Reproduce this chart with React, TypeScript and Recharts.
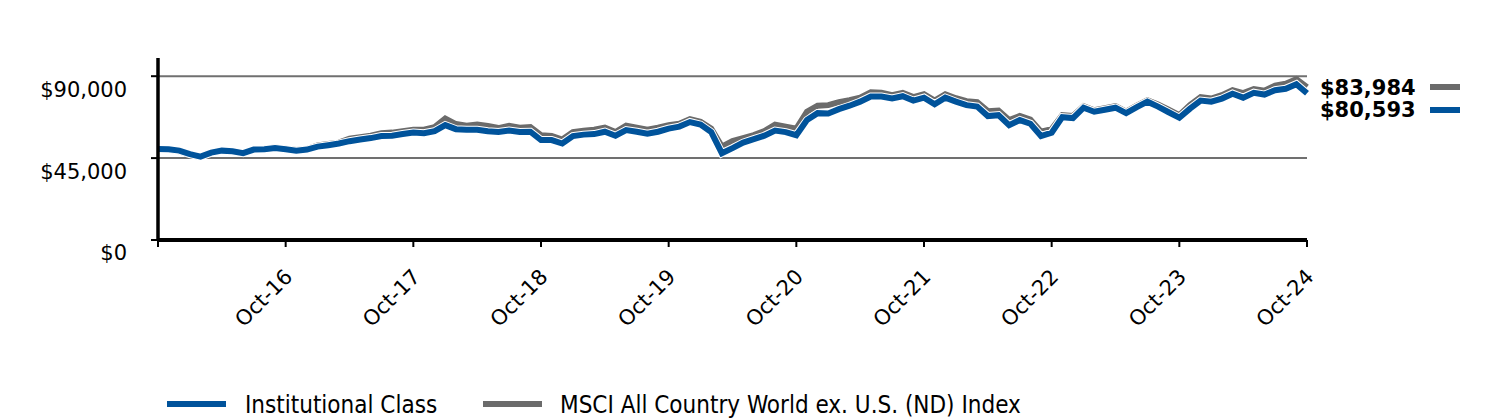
import React from "react"
import { LineChart, Line, XAxis, YAxis, CartesianGrid } from "recharts"

// ─── Data ────────────────────────────────────────────────────

const monthNames = ["Jan", "Feb", "Mar", "Apr", "May", "Jun", "Jul", "Aug", "Sep", "Oct", "Nov", "Dec"]

// Oct-15 .. Oct-24, monthly
const months: string[] = []
for (let i = 0; i < 109; i++) {
  const m = (9 + i) % 12
  const yr = 15 + Math.floor((9 + i) / 12)
  months.push(`${monthNames[m]}-${yr}`)
}

const xTicks = ["Oct-15", "Oct-16", "Oct-17", "Oct-18", "Oct-19", "Oct-20", "Oct-21", "Oct-22", "Oct-23", "Oct-24"]
const yTicks = [0, 45000, 90000]
const gridValues = [45000, 90000]

const institutional = [
  50000, 49900, 49100, 47200, 45800, 48000, 49100, 48800, 47700, 49700,
  49900, 50500, 49900, 49100, 49700, 51300, 52100, 53000, 54300, 55200,
  56000, 57100, 57300, 58200, 59000, 58700, 59800, 63100, 60900, 60600,
  60600, 59800, 59300, 60100, 59300, 59500, 54900, 54900, 53000, 57100,
  57900, 58200, 59500, 57300, 60400, 59500, 58400, 59500, 61200, 62300,
  64800, 63400, 59300, 47700, 50500, 53500, 55400, 57300, 60100, 59300,
  57600, 65900, 69700, 69500, 71900, 73800, 76000, 78800, 78800, 77800,
  79000, 76600, 78200, 74600, 78200, 76000, 74100, 73300, 68100, 68600,
  63100, 65900, 63900, 57100, 59000, 67500, 67000, 72700, 70500, 71600,
  72700, 69700, 73000, 76000, 73300, 70200, 67200, 72200, 76600, 76000,
  77700, 80400, 78200, 80900, 79900, 82300, 83100, 85600, 80593,
]

const msci = [
  50000, 49700, 48800, 46600, 45600, 47700, 49100, 48800, 47700, 49900,
  50200, 50800, 50200, 49400, 49900, 51900, 52700, 53500, 55700, 56500,
  57300, 58700, 59000, 59800, 60600, 60600, 62000, 66700, 63700, 62800,
  63400, 62600, 61500, 62800, 61700, 62000, 57600, 57100, 55200, 59300,
  60100, 60600, 61700, 59300, 62800, 61700, 60600, 61700, 63100, 63900,
  66400, 65000, 61200, 51300, 54300, 56000, 57600, 59800, 63400, 62300,
  61200, 70500, 73800, 74100, 75700, 76800, 78200, 81200, 80900, 79600,
  80900, 78500, 80100, 76600, 80100, 77900, 76300, 75700, 70800, 71100,
  65900, 68100, 66100, 59500, 60900, 68600, 68100, 73500, 71300, 72400,
  73500, 70500, 73800, 76800, 74400, 71600, 68600, 74100, 78500, 77700,
  79600, 82300, 80700, 82900, 82000, 84800, 85900, 88400, 83984,
]

const endLabels = ["$83,984", "$80,593"]

const data = months.map((month, i) => ({
  month,
  institutional: institutional[i],
  msci: msci[i],
}))

// ─── Styles ──────────────────────────────────────────────────

const BLUE = "#00539b"
const GRAY = "#6b6b6b"
const FONT = '"DejaVu Sans", Verdana, sans-serif'
const LEGEND_FONT = '"DejaVu Sans Condensed", "DejaVu Sans", sans-serif'

const fmtMoney = (v: number) => `$${v.toLocaleString("en-US")}`

function YTick({ x, y, payload }: any) {
  return (
    <text x={x - 22} y={y + 13} dy="0.355em" textAnchor="end" fontSize={21} fontFamily={FONT} fill="#000">
      {fmtMoney(payload.value)}
    </text>
  )
}

function XTick({ x, y, payload }: any) {
  if (payload.value === "Oct-15") return null
  const ax = x + 8
  const ay = y + 29
  return (
    <text x={ax} y={ay} textAnchor="end" fontSize={21} fontFamily={FONT} fill="#000" transform={`rotate(-45, ${ax}, ${ay})`}>
      {payload.value}
    </text>
  )
}

export default function App() {
  return (
    <div style={{ position: "absolute", left: 0, top: 0, width: 1500, height: 420, background: "#fff" }}>
      <LineChart width={1500} height={420} data={data} margin={{ top: 58, right: 193, bottom: 80, left: 0 }}>
        <CartesianGrid vertical={false} horizontalValues={gridValues} stroke="#707070" strokeWidth={2} />
        <XAxis
          dataKey="month"
          ticks={xTicks}
          interval={0}
          height={100}
          tick={<XTick />}
          tickSize={7}
          tickLine={{ stroke: "#000", strokeWidth: 2 }}
          axisLine={{ stroke: "#000", strokeWidth: 4 }}
        />
        <YAxis
          width={158}
          domain={[0, 100000]}
          ticks={yTicks}
          tick={<YTick />}
          tickSize={7}
          tickLine={{ stroke: "#000", strokeWidth: 2 }}
          axisLine={{ stroke: "#000", strokeWidth: 3.5 }}
        />
        <Line dataKey="msci" stroke={GRAY} strokeWidth={6} dot={false} isAnimationActive={false} />
        <Line dataKey="institutional" stroke="#fff" strokeWidth={8} dot={false} isAnimationActive={false} />
        <Line dataKey="institutional" stroke={BLUE} strokeWidth={6} dot={false} isAnimationActive={false} />
      </LineChart>

      {/* end values + legend */}
      <svg width={1500} height={420} style={{ position: "absolute", left: 0, top: 0, pointerEvents: "none" }}>
        <text x={1320} y={88} dy="0.355em" fontSize={21} fontWeight="bold" fontFamily={FONT} fill="#000">
          {endLabels[0]}
        </text>
        <line x1={1430} x2={1460} y1={87} y2={87} stroke={GRAY} strokeWidth={6} />
        <text x={1320} y={110} dy="0.355em" fontSize={21} fontWeight="bold" fontFamily={FONT} fill="#000">
          {endLabels[1]}
        </text>
        <line x1={1430} x2={1460} y1={110} y2={110} stroke={BLUE} strokeWidth={6} />

        <line x1={167} x2={226} y1={404} y2={404} stroke={BLUE} strokeWidth={6} />
        <text x={245} y={404} dy="0.355em" fontSize={24} fontFamily={LEGEND_FONT} fill="#000">
          Institutional Class
        </text>
        <line x1={483} x2={542} y1={404} y2={404} stroke={GRAY} strokeWidth={6} />
        <text x={560} y={404} dy="0.355em" fontSize={24} fontFamily={LEGEND_FONT} fill="#000">
          MSCI All Country World ex. U.S. (ND) Index
        </text>
      </svg>
    </div>
  )
}
